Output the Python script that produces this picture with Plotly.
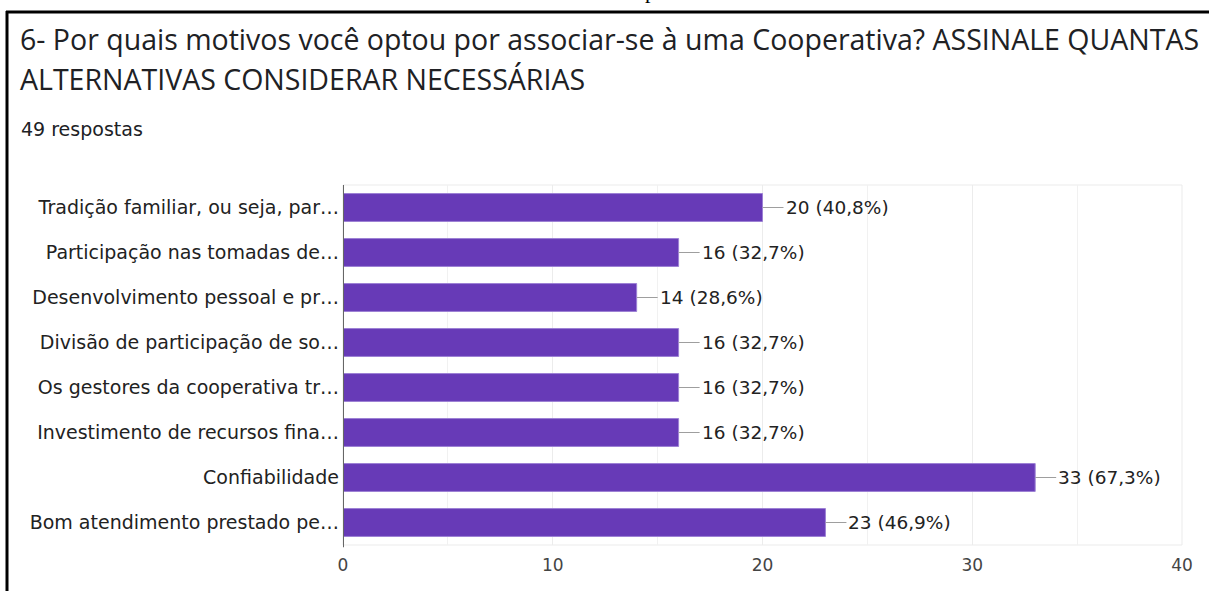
import plotly.graph_objects as go

categories = [
    "Tradição familiar, ou seja, par…",
    "Participação nas tomadas de…",
    "Desenvolvimento pessoal e pr…",
    "Divisão de participação de so…",
    "Os gestores da cooperativa tr…",
    "Investimento de recursos fina…",
    "Confiabilidade",
    "Bom atendimento prestado pe…",
]
counts = [20, 16, 14, 16, 16, 16, 33, 23]
percents = ["40,8%", "32,7%", "28,6%", "32,7%", "32,7%", "32,7%", "67,3%", "46,9%"]
x_ticks = [0, 10, 20, 30, 40]

title_line1 = "6- Por quais motivos você optou por associar-se à uma Cooperativa? ASSINALE QUANTAS"
title_line2 = "ALTERNATIVAS CONSIDERAR NECESSÁRIAS"
subtitle = "49 respostas"

W, H = 1209, 591
L, R, T, B = 343, 27, 185, 46
PW, PH = W - L - R, H - T - B


def px(x):
    return (x - L) / PW


def py(y):
    return 1 + (T - y) / PH


CHART_FONT = "DejaVu Sans, Roboto, Arial, sans-serif"

fig = go.Figure()
fig.add_trace(go.Bar(
    x=counts, y=categories, orientation="h",
    marker=dict(color="#673ab7", line=dict(color="#9c80d4", width=1)),
    width=0.62, hoverinfo="skip",
))

for c, v, p in zip(categories, counts, percents):
    fig.add_annotation(
        x=v, y=c, xref="x", yref="y",
        text=f"{v} ({p})", showarrow=True, arrowhead=0, arrowwidth=1,
        arrowcolor="#9e9e9e", ax=21, ay=0, xanchor="left", standoff=0,
        font=dict(family=CHART_FONT, size=18.5, color="#222222"),
    )

font_title = dict(family="Open Sans, sans-serif", size=28.5, color="#202124")
fig.add_annotation(text=title_line1, xref="paper", yref="paper",
                   x=px(18), y=py(39), xanchor="left", yanchor="middle",
                   showarrow=False, font=font_title)
fig.add_annotation(text=title_line2, xref="paper", yref="paper",
                   x=px(18), y=py(79), xanchor="left", yanchor="middle",
                   showarrow=False, font=font_title)
fig.add_annotation(text=subtitle, xref="paper", yref="paper",
                   x=px(19), y=py(129), xanchor="left", yanchor="middle",
                   showarrow=False,
                   font=dict(family=CHART_FONT, size=19, color="#202124"))
# fragment of the page text above the frame (only its descender shows)
fig.add_annotation(text="p", xref="paper", yref="paper",
                   x=px(650), y=py(-10), xanchor="center", yanchor="middle",
                   showarrow=False,
                   font=dict(family="Liberation Serif, serif", size=22, color="#000000"))

# page frame lines
fig.add_shape(type="line", xref="paper", yref="paper",
              x0=px(6), x1=px(W + 5), y0=py(12), y1=py(12),
              line=dict(color="#000000", width=3))
fig.add_shape(type="line", xref="paper", yref="paper",
              x0=px(7), x1=px(7), y0=py(11), y1=py(H + 5),
              line=dict(color="#000000", width=3))

# light plot frame
fig.add_shape(type="rect", xref="paper", yref="paper", x0=0, x1=1, y0=0, y1=1,
              line=dict(color="#ebebeb", width=1), layer="below")

fig.update_layout(
    width=W, height=H,
    margin=dict(l=L, r=R, t=T, b=B),
    paper_bgcolor="white", plot_bgcolor="white",
    showlegend=False,
    xaxis=dict(range=[0, 40], tickvals=x_ticks,
               showgrid=True, gridcolor="#ececec", gridwidth=1,
               minor=dict(dtick=5, showgrid=True, gridcolor="#f1f1f1"),
               zeroline=False, showline=False, ticks="",
               tickfont=dict(family=CHART_FONT, size=17, color="#444444"),
               ticklabelstandoff=8),
    yaxis=dict(categoryorder="array", categoryarray=categories[::-1],
               showgrid=False, zeroline=False, showline=False, ticks="",
               tickfont=dict(family=CHART_FONT, size=19, color="#222222"),
               ticklabelstandoff=3),
)
# dark axis line at x = 0
fig.add_shape(type="line", xref="x", yref="paper", x0=0, x1=0, y0=-0.006, y1=1,
              line=dict(color="#666666", width=2))

fig.write_html("out.html", config={"displayModeBar": False},
               post_script="document.body.style.margin='0';")
